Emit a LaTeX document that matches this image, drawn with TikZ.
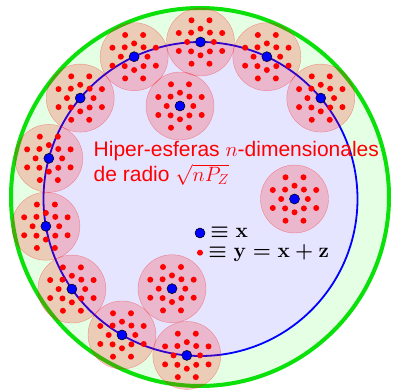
\documentclass[tikz,border=0pt]{standalone}
\usepackage{amsmath,amssymb}
\usepackage{fontspec}
\newfontfamily\helv{Liberation Sans}
\usepackage{tikz}
\usetikzlibrary{positioning,calc}

\definecolor{ballgreen}{RGB}{10,225,10}

\begin{document}
\begin{tikzpicture}[x=1pt, y=1pt,
    sphere/.style={circle, draw=red, draw opacity=0.35, fill=red, fill opacity=0.2, minimum size=68pt, inner sep=0pt},
    codeword/.style={circle, draw=black, line width=0.5pt, fill=blue, minimum size=10pt, inner sep=0pt},
    noisy/.style={circle, fill=red, minimum size=6pt, inner sep=0pt},
    caption/.style={text=red, font=\helv\fontsize{21}{24}\selectfont, inner sep=0pt, anchor=base west},
    legend/.style={font=\boldmath\fontsize{20.5}{24}\selectfont, inner sep=0pt}]
  \useasboundingbox (-200.5,-191) rectangle (192.5,199);
  % big balls
  \draw[line width=4pt, draw=ballgreen, fill=green!10] (-0.5,2) circle (189);
  \draw[line width=1.8pt, draw=blue, fill=blue!10] (0,0) circle (157);
  % codewords
  \foreach \a [count=\i] in {40,65,...,265}
    \coordinate (x\i) at (\a:157);
  \coordinate (x11) at (-20.5,93);
  \coordinate (x12) at (94,0);
  \coordinate (x13) at (-28.5,-89.7);
  \foreach \i in {1,...,13}
    \node[sphere] (s\i) at (x\i) {};
  \foreach \i in {1,...,13} {
    \foreach \b in {0,45,...,315} {
      \node[noisy] (n\i-\b) at ($(x\i)+(\b:13.3)$) {};
      \node[noisy] (m\i-\b) at ($(x\i)+(\b+22.5:23.5)$) {};
    }
    \node[codeword] (c\i) at (x\i) {};
  }
  % text
  \node[caption] (capa) at (-107,42.3) {Hiper-esferas $n$-dimensionales};
  \node[caption] (capb) at (-107,17.3) {de radio $\sqrt{nP_Z}$};
  \node[codeword] (kx) at (-0.5,-34) {};
  \node[noisy] (ky) at (-0.5,-53.7) {};
  \node[legend, right=5pt of kx.east, anchor=base west, yshift=-5pt] (kxt) {$\equiv\mathbf{x}$};
  \node[legend, right=5pt of ky.east, anchor=base west, yshift=-5pt] (kyt) {$\equiv\mathbf{y}=\mathbf{x}+\mathbf{z}$};
\end{tikzpicture}
\end{document}
